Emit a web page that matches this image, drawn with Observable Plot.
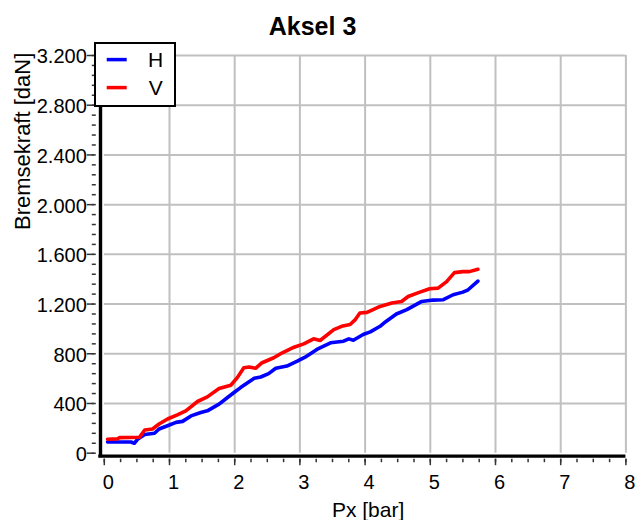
<!DOCTYPE html>
<html>
<head>
<meta charset="utf-8">
<script src="https://cdn.jsdelivr.net/npm/d3@7"></script>
<script src="https://cdn.jsdelivr.net/npm/@observablehq/plot@0.6"></script>
<style>
  html, body { margin: 0; padding: 0; background: #fff; }
  #wrap { position: relative; width: 636px; height: 520px; font-family: "Liberation Sans", Arial, sans-serif; }
  #title { box-sizing: border-box; height: 42px; padding-top: 14px; width: 625px; text-align: center;
           font: bold 25px/24px "Liberation Sans", Arial, sans-serif; color: #000; }
  #legend { position: absolute; left: 94px; top: 41.5px; width: 82px; height: 65px; box-sizing: border-box;
            border: 2px solid #000; background: #fff; }
  #legend svg { display: block; }
</style>
</head>
<body>
<div id="wrap">
  <div id="title">Aksel 3</div>
  <div id="chart"></div>
  <div id="legend"></div>
</div>
<script>
// ---- data ----
const seriesNames = ["H", "V"];
const seriesColors = ["#0000ff", "#ff0000"];

const hX = [0.05, 0.41, 0.46, 0.51, 0.62, 0.77, 0.84, 0.97, 1.10, 1.20, 1.33, 1.48, 1.58, 1.76, 1.89, 1.99, 2.09, 2.30, 2.40, 2.52, 2.63, 2.80, 2.96, 3.08, 3.26, 3.47, 3.67, 3.75, 3.82, 3.97, 4.08, 4.23, 4.31, 4.48, 4.64, 4.87, 5.04, 5.20, 5.35, 5.50, 5.58, 5.73];
const hY = [90, 90, 80, 112, 150, 160, 195, 221, 248, 256, 300, 328, 341, 395, 448, 488, 528, 603, 613, 640, 683, 701, 741, 773, 835, 888, 901, 920, 909, 955, 976, 1021, 1056, 1120, 1155, 1221, 1232, 1235, 1275, 1296, 1315, 1385];

const vX = [0.05, 0.20, 0.23, 0.54, 0.62, 0.74, 0.84, 0.97, 1.12, 1.25, 1.43, 1.58, 1.76, 1.94, 2.04, 2.14, 2.22, 2.32, 2.42, 2.60, 2.73, 2.91, 3.06, 3.21, 3.31, 3.52, 3.64, 3.77, 3.85, 3.92, 4.03, 4.23, 4.41, 4.56, 4.66, 4.84, 4.99, 5.12, 5.25, 5.37, 5.50, 5.60, 5.73];
const vY = [112, 115, 125, 128, 187, 195, 235, 275, 309, 341, 416, 453, 520, 547, 608, 688, 693, 683, 728, 768, 808, 853, 880, 920, 907, 995, 1021, 1035, 1075, 1128, 1133, 1181, 1208, 1221, 1261, 1296, 1323, 1328, 1381, 1453, 1461, 1461, 1480];

const xTicks = [0, 1, 2, 3, 4, 5, 6, 7, 8];
const xMinorTicks = d3.range(0, 8.001, 0.25);
const yTicks = [0, 400, 800, 1200, 1600, 2000, 2400, 2800, 3200];
const yMinorTicks = d3.range(0, 3200.1, 80);

const xLabel = "Px [bar]";
const yLabel = "Bremsekraft [daN]";

// ---- build ----
const rows = [
  ...hX.map((x, i) => ({series: seriesNames[0], x, y: hY[i]})),
  ...vX.map((x, i) => ({series: seriesNames[1], x, y: vY[i]}))
];
const fmt = d3.formatLocale({decimal: ",", thousands: ".", grouping: [3], currency: ["", ""]}).format(",d");
const font = "'Liberation Sans', Arial, sans-serif";

const chart = Plot.plot({
  width: 636,
  height: 478,
  marginLeft: 103.8,
  marginRight: 10.6,
  marginTop: 13,
  marginBottom: 67.3,
  style: {fontFamily: font, fontSize: "20px", color: "#000", background: "#fff", overflow: "visible"},
  x: {domain: [0, 8]},
  y: {domain: [0, 3200]},
  color: {domain: seriesNames, range: seriesColors},
  marks: [
    Plot.gridX(xTicks.slice(1), {stroke: "#c0c0c0", strokeOpacity: 1, strokeWidth: 2}),
    Plot.gridY(yTicks.slice(1), {stroke: "#c0c0c0", strokeOpacity: 1, strokeWidth: 2}),
    // axis lines
    Plot.ruleY([0], {stroke: "#000", strokeWidth: 3.2, dy: 3, insetLeft: -5.5}),
    Plot.ruleX([0], {stroke: "#000", strokeWidth: 3.4, dx: -3.8, insetBottom: -4.5}),
    // y ticks
    Plot.axisY(yMinorTicks, {anchor: "left", tickSize: 4, dx: -8, tickFormat: () => "", label: null, stroke: "#333", strokeWidth: 1.5}),
    Plot.axisY(yTicks, {anchor: "left", tickSize: 7, dx: -10, tickFormat: () => "", label: null, stroke: "#333", strokeWidth: 1.5}),
    Plot.axisY(yTicks, {anchor: "left", tickSize: 0, tickPadding: 17.5, dy: 1.5, tickFormat: fmt, label: null, fontSize: 20}),
    // x ticks
    Plot.axisX(xMinorTicks, {anchor: "bottom", tickSize: 3.5, dy: 6, tickFormat: () => "", label: null, stroke: "#333", strokeWidth: 1.5}),
    Plot.axisX(xTicks, {anchor: "bottom", tickSize: 6.5, dy: 6, tickFormat: () => "", label: null, stroke: "#333", strokeWidth: 1.5}),
    Plot.axisX(xTicks, {anchor: "bottom", tickSize: 0, tickPadding: 22, dx: 4, tickFormat: d => String(d), label: null, fontSize: 20}),
    // axis titles
    Plot.text([xLabel], {text: d => d, frameAnchor: "bottom", textAnchor: "middle", lineAnchor: "middle", dx: 3, dy: 57, fontSize: 21}),
    Plot.text([yLabel], {text: d => d, frameAnchor: "left", textAnchor: "middle", lineAnchor: "middle", rotate: -90, dx: -81, dy: -113, fontSize: 22}),
    // data
    Plot.line(rows, {x: "x", y: "y", z: "series", stroke: "series", strokeWidth: 3.6, strokeLinejoin: "round", strokeLinecap: "round"})
  ]
});
document.getElementById("chart").appendChild(chart);

// legend
const lg = d3.select("#legend").append("svg").attr("width", 78).attr("height", 61);
seriesNames.forEach((name, i) => {
  const cy = 15.6 + i * 28;
  lg.append("line").attr("x1", 10.7).attr("x2", 30.7).attr("y1", cy).attr("y2", cy)
    .attr("stroke", seriesColors[i]).attr("stroke-width", 3.5);
  lg.append("text").attr("x", 59.7).attr("y", cy + 7.2).attr("text-anchor", "middle")
    .attr("font-family", font).attr("font-size", 21).attr("fill", "#000").text(name);
});
</script>
</body>
</html>
